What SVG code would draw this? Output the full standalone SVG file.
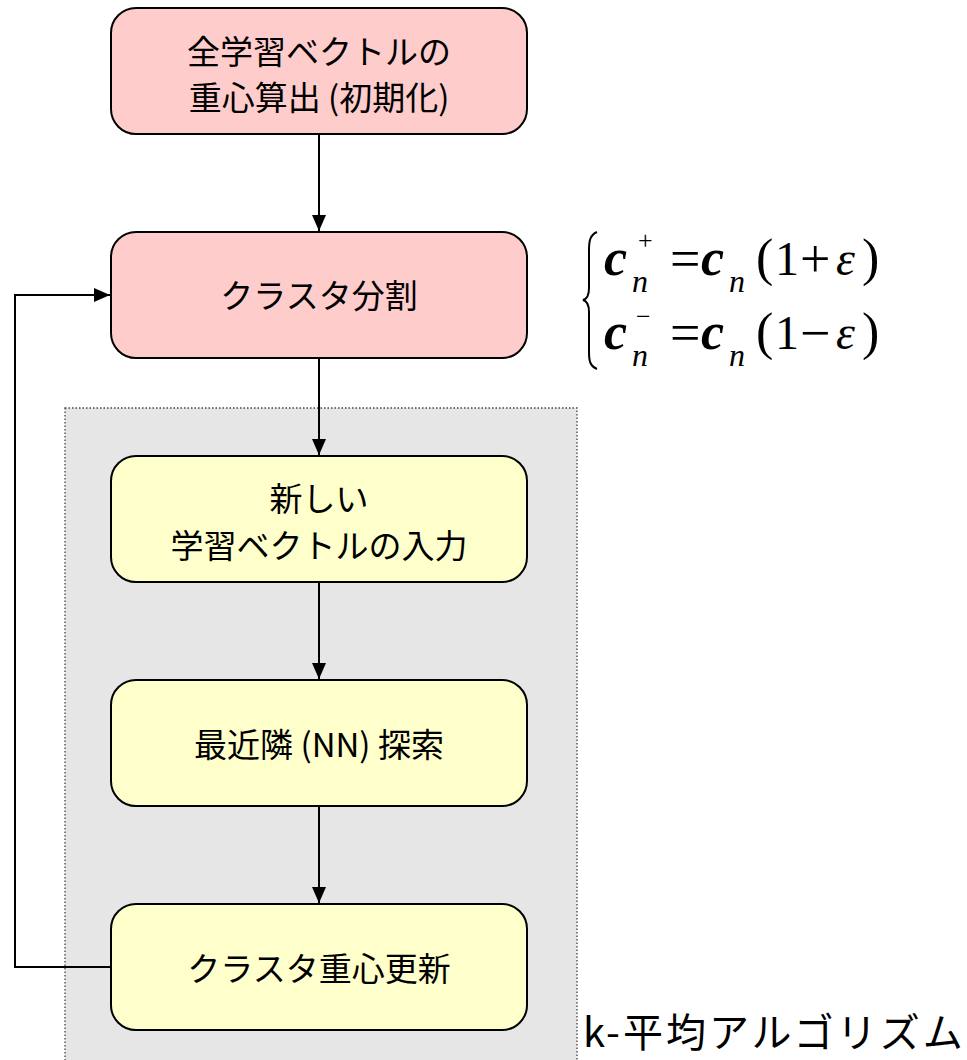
<svg xmlns="http://www.w3.org/2000/svg" width="967" height="1060" viewBox="0 0 967 1060">
<style>
.box{stroke:#000;stroke-width:2}
.pink{fill:#FFCCCC}
.yel{fill:#FFFFCC}
.lbl{font-family:"Noto Sans CJK JP","Liberation Sans",sans-serif;font-size:33px;fill:#000;text-anchor:middle}
.conn{fill:none;stroke:#000;stroke-width:2}
.m{font-family:"Liberation Serif",serif;font-size:48px;fill:#000}
.op{font-size:54px}
.pr{font-size:52px}
.mi{font-style:italic}
.mb{font-weight:bold;font-style:italic;font-size:52px}
.ms{font-family:"Liberation Serif",serif;font-size:32px;fill:#000;font-style:italic}
.sup{font-family:"Liberation Serif",serif;font-size:26px;fill:#000}
</style>
<defs>
<marker id="ah" viewBox="0 0 16 14" refX="16" refY="7" markerWidth="16" markerHeight="14" markerUnits="userSpaceOnUse" orient="auto">
<path d="M0,0 L16,7 L0,14 Z" fill="#000"/>
</marker>
</defs>
<rect id="group-bg" x="65" y="408" width="512" height="670" fill="#E6E6E6" stroke="#444" stroke-width="1.3" stroke-dasharray="1.5 2"/>
<g id="connectors">
<line class="conn" x1="319" y1="134" x2="319" y2="231" marker-end="url(#ah)"/>
<line class="conn" x1="319" y1="358" x2="319" y2="455" marker-end="url(#ah)"/>
<line class="conn" x1="319" y1="582" x2="319" y2="679" marker-end="url(#ah)"/>
<line class="conn" x1="319" y1="806" x2="319" y2="903" marker-end="url(#ah)"/>
<path class="conn" d="M111,967 H15 V295 H110" marker-end="url(#ah)"/>
</g>
<g id="n1">
<rect class="box pink" x="111" y="8" width="416" height="126" rx="25"/>
<text class="lbl" x="319" y="64">全学習ベクトルの</text>
<text class="lbl" x="319" y="110">重心算出 (初期化)</text>
</g>
<g id="n2">
<rect class="box pink" x="111" y="232" width="416" height="126" rx="25"/>
<text class="lbl" x="319" y="308">クラスタ分割</text>
</g>
<g id="n3">
<rect class="box yel" x="111" y="456" width="416" height="126" rx="25"/>
<text class="lbl" x="319" y="511">新しい</text>
<text class="lbl" x="319" y="558">学習ベクトルの入力</text>
</g>
<g id="n4">
<rect class="box yel" x="111" y="680" width="416" height="126" rx="25"/>
<text class="lbl" x="319" y="757">最近隣 (NN) 探索</text>
</g>
<g id="n5">
<rect class="box yel" x="111" y="904" width="416" height="126" rx="25"/>
<text class="lbl" x="319" y="981">クラスタ重心更新</text>
</g>
<g id="formula">
<path d="M597,232 C590,235 589,241 589,250 L589,288 C589,295 587,299 583,300 C587,301 589,305 589,312 L589,352 C589,361 590,366 597,369" fill="none" stroke="#000" stroke-width="2"/>
<text class="m mb" x="604" y="275">c</text>
<text class="sup" x="638" y="249">+</text>
<text class="ms" x="632" y="292">n</text>
<text class="m op" x="670" y="277">=</text>
<text class="m mb" x="701" y="275">c</text>
<text class="ms" x="729" y="292">n</text>
<text class="m pr" x="756" y="275">(</text>
<text class="m" x="775" y="275">1</text>
<text class="m op" x="800" y="277">+</text>
<text class="m mi" x="836" y="275">ε</text>
<text class="m pr" x="862" y="275">)</text>
<text class="m mb" x="604" y="349">c</text>
<text class="sup" x="636" y="325">−</text>
<text class="ms" x="632" y="366">n</text>
<text class="m op" x="670" y="351">=</text>
<text class="m mb" x="701" y="349">c</text>
<text class="ms" x="729" y="366">n</text>
<text class="m pr" x="756" y="349">(</text>
<text class="m" x="775" y="349">1</text>
<text class="m op" x="800" y="351">−</text>
<text class="m mi" x="836" y="349">ε</text>
<text class="m pr" x="862" y="349">)</text>
</g>
<text id="title" x="583" y="1047" font-family="Noto Sans CJK JP,Liberation Sans,sans-serif" font-size="40" letter-spacing="3" fill="#000">k-平均アルゴリズム</text>
</svg>
